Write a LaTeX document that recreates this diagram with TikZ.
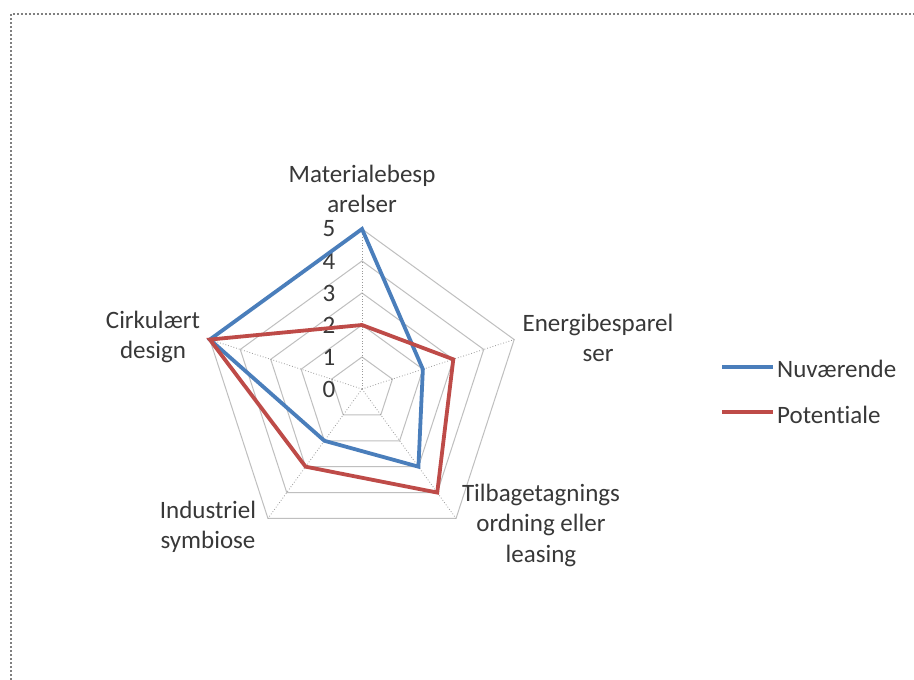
\documentclass[tikz,border=0pt]{standalone}
\usepackage{fontspec}
\setmainfont[Ligatures=NoCommon]{Carlito}
\definecolor{txt}{HTML}{383838}
\definecolor{serblue}{HTML}{4A7EBB}
\definecolor{serred}{HTML}{BE4B48}
\definecolor{gridc}{HTML}{BFBFBF}
\begin{document}
\begin{tikzpicture}[x=1pt,y=-1pt,
  lbl/.style={font=\fontsize{25}{30.5}\selectfont, text=txt, align=center, inner sep=0pt},
  num/.style={font=\fontsize{25}{30}\selectfont, text=txt, inner sep=0pt},
  ring/.style={draw=gridc, line width=1pt},
  spoke/.style={draw=gray!80, line width=0.8pt, dotted},
  blueser/.style={draw=serblue, line width=3.8pt, line join=miter},
  redser/.style={draw=serred, line width=3.8pt, line join=miter},
  frame/.style={draw=gray!110!black!0, draw=gray, line width=2pt, dash pattern=on 2pt off 2pt}]
\useasboundingbox (0,0) rectangle (914,680);
\fill[white] (0,0) rectangle (914,680);
% frame
\coordinate (F1) at (11,680);
\coordinate (F2) at (11,14);
\coordinate (F3) at (914,14);
\draw[frame] (F1) -- (F2) -- (F3);
\coordinate (O) at (362,389);
\begin{scope}[shift={(O)}]
  \foreach \k in {1,...,5}{
    \pgfmathsetmacro\rr{32*\k}
    \draw[ring] (90:\rr pt) -- (18:\rr pt) -- (-54:\rr pt) -- (-126:\rr pt) -- (162:\rr pt) -- cycle;
  }
  \coordinate (C) at (0,0);
  \coordinate (A1) at (90:160pt);
  \coordinate (A2) at (18:160pt);
  \coordinate (A3) at (-54:160pt);
  \coordinate (A4) at (-126:160pt);
  \coordinate (A5) at (162:160pt);
  % Nuvaerende: 5,2,3,2,5
  \coordinate (B1) at (90:160pt);
  \coordinate (B2) at (18:64pt);
  \coordinate (B3) at (-54:96pt);
  \coordinate (B4) at (-126:64pt);
  \coordinate (B5) at (162:160pt);
  % Potentiale: 2,3,4,3,5
  \coordinate (R1) at (90:64pt);
  \coordinate (R2) at (18:96pt);
  \coordinate (R3) at (-54:128pt);
  \coordinate (R4) at (-126:96pt);
  \coordinate (R5) at (162:160pt);
\end{scope}
\foreach \i in {1,...,5}{\draw[spoke] (C) -- (A\i);}
% value labels
\foreach \k in {0,...,5}{
  \node[num] (n\k) at (329,{389-32*\k}) {\k};
}
% series
\draw[blueser] (B1) -- (B2) -- (B3) -- (B4) -- (B5) -- cycle;
\draw[redser] (R1) -- (R2) -- (R3) -- (R4) -- (R5) -- cycle;
% category labels
\node[lbl] (L1) at (362,189) {Materialebesp\\arelser};
\node[lbl] (L2) at (598,338) {Energibesparel\\ser};
\node[lbl] (L3) at (541,525) {Tilbagetagnings\\ordning eller\\leasing};
\node[lbl] (L4) at (208,527) {Industriel\\symbiose};
\node[lbl] (L5) at (153,337) {Cirkulært\\design};
% legend
\coordinate (lb1) at (722,367);
\coordinate (lb2) at (773,367);
\coordinate (lr1) at (722,412);
\coordinate (lr2) at (773,412);
\draw[blueser] (lb1) -- (lb2);
\draw[redser] (lr1) -- (lr2);
\node[lbl, anchor=west] (G1) at (777,369) {Nuværende};
\node[lbl, anchor=west] (G2) at (777,415) {Potentiale};
\end{tikzpicture}
\end{document}
